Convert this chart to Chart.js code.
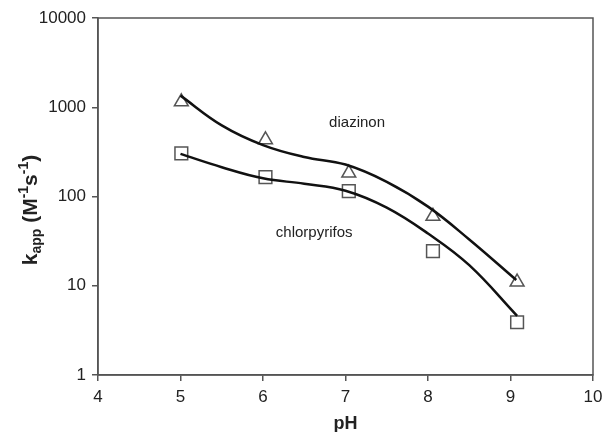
<!DOCTYPE html>
<html lang="en">
<head>
<meta charset="UTF-8" />
<title>kapp vs pH</title>
<script src="https://cdn.jsdelivr.net/npm/chart.js@4.4.0/dist/chart.umd.min.js"></script>
<style>
    html, body { margin: 0; padding: 0; background: #fff; }
    #chart { display: block; }
</style>
</head>
<body>
<canvas id="chart" width="611" height="432"></canvas>
<script>
// measured rate constants (symbols)
var phMeasured = [5.01, 6.03, 7.04, 8.06, 9.08];
var diazinonK = [1150, 432, 183, 60, 11.0];
var chlorpyrifosK = [304, 165, 115, 24.4, 3.9];

// model curves
var diazinonFitPh = [5, 5.5, 6, 6.5, 7, 7.5, 8, 8.5, 9.07];
var diazinonFitK = [1350, 627, 377, 277, 228, 146, 77, 33, 11.6];
var chlorFitPh = [5, 5.5, 6, 6.5, 7, 7.5, 8, 8.5, 9.08];
var chlorFitK = [300, 213, 160, 139, 116, 75, 38.5, 17, 4.6];

var xTicks = [4, 5, 6, 7, 8, 9, 10];
var yTicks = [1, 10, 100, 1000, 10000];

var seriesNames = ["diazinon", "chlorpyrifos"];
var namePos = [[7.14, 660], [6.62, 39]];   // pH, k
var xTitle = "pH";
// y title pieces: text, size, shift (down +)
var yTitleParts = [
    ["k", 21, 0], ["app", 14, 4], [" (M", 21, 0], ["-1", 14, -9],
    ["s", 21, 0], ["-1", 14, -9], [")", 21, 0]
];

var FONT = '"Liberation Sans", Arial, Helvetica, sans-serif';
var AXIS = "#555";
var TEXT = "#222";

function pts(xs, ys) {
    return xs.map(function (x, i) { return { x: x, y: ys[i] }; });
}

var extras = {
    id: "extras",
    afterDraw: function (chart) {
        var ctx = chart.ctx;
        var a = chart.chartArea;
        var sx = chart.scales.x, sy = chart.scales.y;
        ctx.save();
        // box
        ctx.strokeStyle = AXIS;
        ctx.lineWidth = 1.5;
        ctx.strokeRect(a.left, a.top, a.right - a.left, a.bottom - a.top);

        ctx.fillStyle = TEXT;
        // curve names
        ctx.font = "15px " + FONT;
        ctx.textAlign = "center";
        ctx.textBaseline = "middle";
        seriesNames.forEach(function (n, i) {
            ctx.fillText(n, sx.getPixelForValue(namePos[i][0]), sy.getPixelForValue(namePos[i][1]));
        });

        // x title
        ctx.font = "bold 18px " + FONT;
        ctx.textBaseline = "alphabetic";
        ctx.fillText(xTitle, (a.left + a.right) / 2, 429);

        // y title, rotated
        var total = 0;
        yTitleParts.forEach(function (p) {
            ctx.font = "bold " + p[1] + "px " + FONT;
            total += ctx.measureText(p[0]).width;
        });
        ctx.translate(37, 210);
        ctx.rotate(-Math.PI / 2);
        ctx.textAlign = "left";
        var x = -total / 2;
        yTitleParts.forEach(function (p) {
            ctx.font = "bold " + p[1] + "px " + FONT;
            ctx.fillText(p[0], x, p[2]);
            x += ctx.measureText(p[0]).width;
        });
        ctx.restore();
    }
};

var tickFont = { family: FONT, size: 17 };

new Chart(document.getElementById("chart"), {
    type: "scatter",
    data: {
        datasets: [
            {
                label: "diazinon model",
                data: pts(diazinonFitPh, diazinonFitK),
                showLine: true,
                borderColor: "#111",
                borderWidth: 2.5,
                pointRadius: 0,
                tension: 0.4
            },
            {
                label: "chlorpyrifos model",
                data: pts(chlorFitPh, chlorFitK),
                showLine: true,
                borderColor: "#111",
                borderWidth: 2.5,
                pointRadius: 0,
                tension: 0.4
            },
            {
                label: "diazinon",
                data: pts(phMeasured, diazinonK),
                pointStyle: "triangle",
                pointRadius: 8,
                backgroundColor: "rgba(0,0,0,0)",
                borderColor: AXIS,
                borderWidth: 1.5
            },
            {
                label: "chlorpyrifos",
                data: pts(phMeasured, chlorpyrifosK),
                pointStyle: "rect",
                pointRadius: 9,
                backgroundColor: "rgba(0,0,0,0)",
                borderColor: AXIS,
                borderWidth: 1.5
            }
        ]
    },
    options: {
        responsive: false,
        animation: false,
        layout: { padding: { left: 0, right: 18, top: 18, bottom: 0 } },
        plugins: { legend: { display: false }, tooltip: { enabled: false } },
        scales: {
            x: {
                type: "linear",
                min: 4,
                max: 10,
                afterBuildTicks: function (s) { s.ticks = xTicks.map(function (v) { return { value: v }; }); },
                afterFit: function (s) { s.height = 57; },
                grid: { drawOnChartArea: false, tickLength: 6, color: AXIS, lineWidth: 1.5 },
                border: { color: AXIS, width: 1.5 },
                ticks: { font: tickFont, color: TEXT, padding: 6 }
            },
            y: {
                type: "logarithmic",
                min: 1,
                max: 10000,
                afterBuildTicks: function (s) { s.ticks = yTicks.map(function (v) { return { value: v }; }); },
                afterFit: function (s) { s.width = 98; },
                grid: { drawOnChartArea: false, tickLength: 6, color: AXIS, lineWidth: 1.5 },
                border: { color: AXIS, width: 1.5 },
                ticks: { font: tickFont, color: TEXT, padding: 6, callback: function (v) { return String(v); } }
            }
        }
    },
    plugins: [extras]
});
</script>
</body>
</html>
